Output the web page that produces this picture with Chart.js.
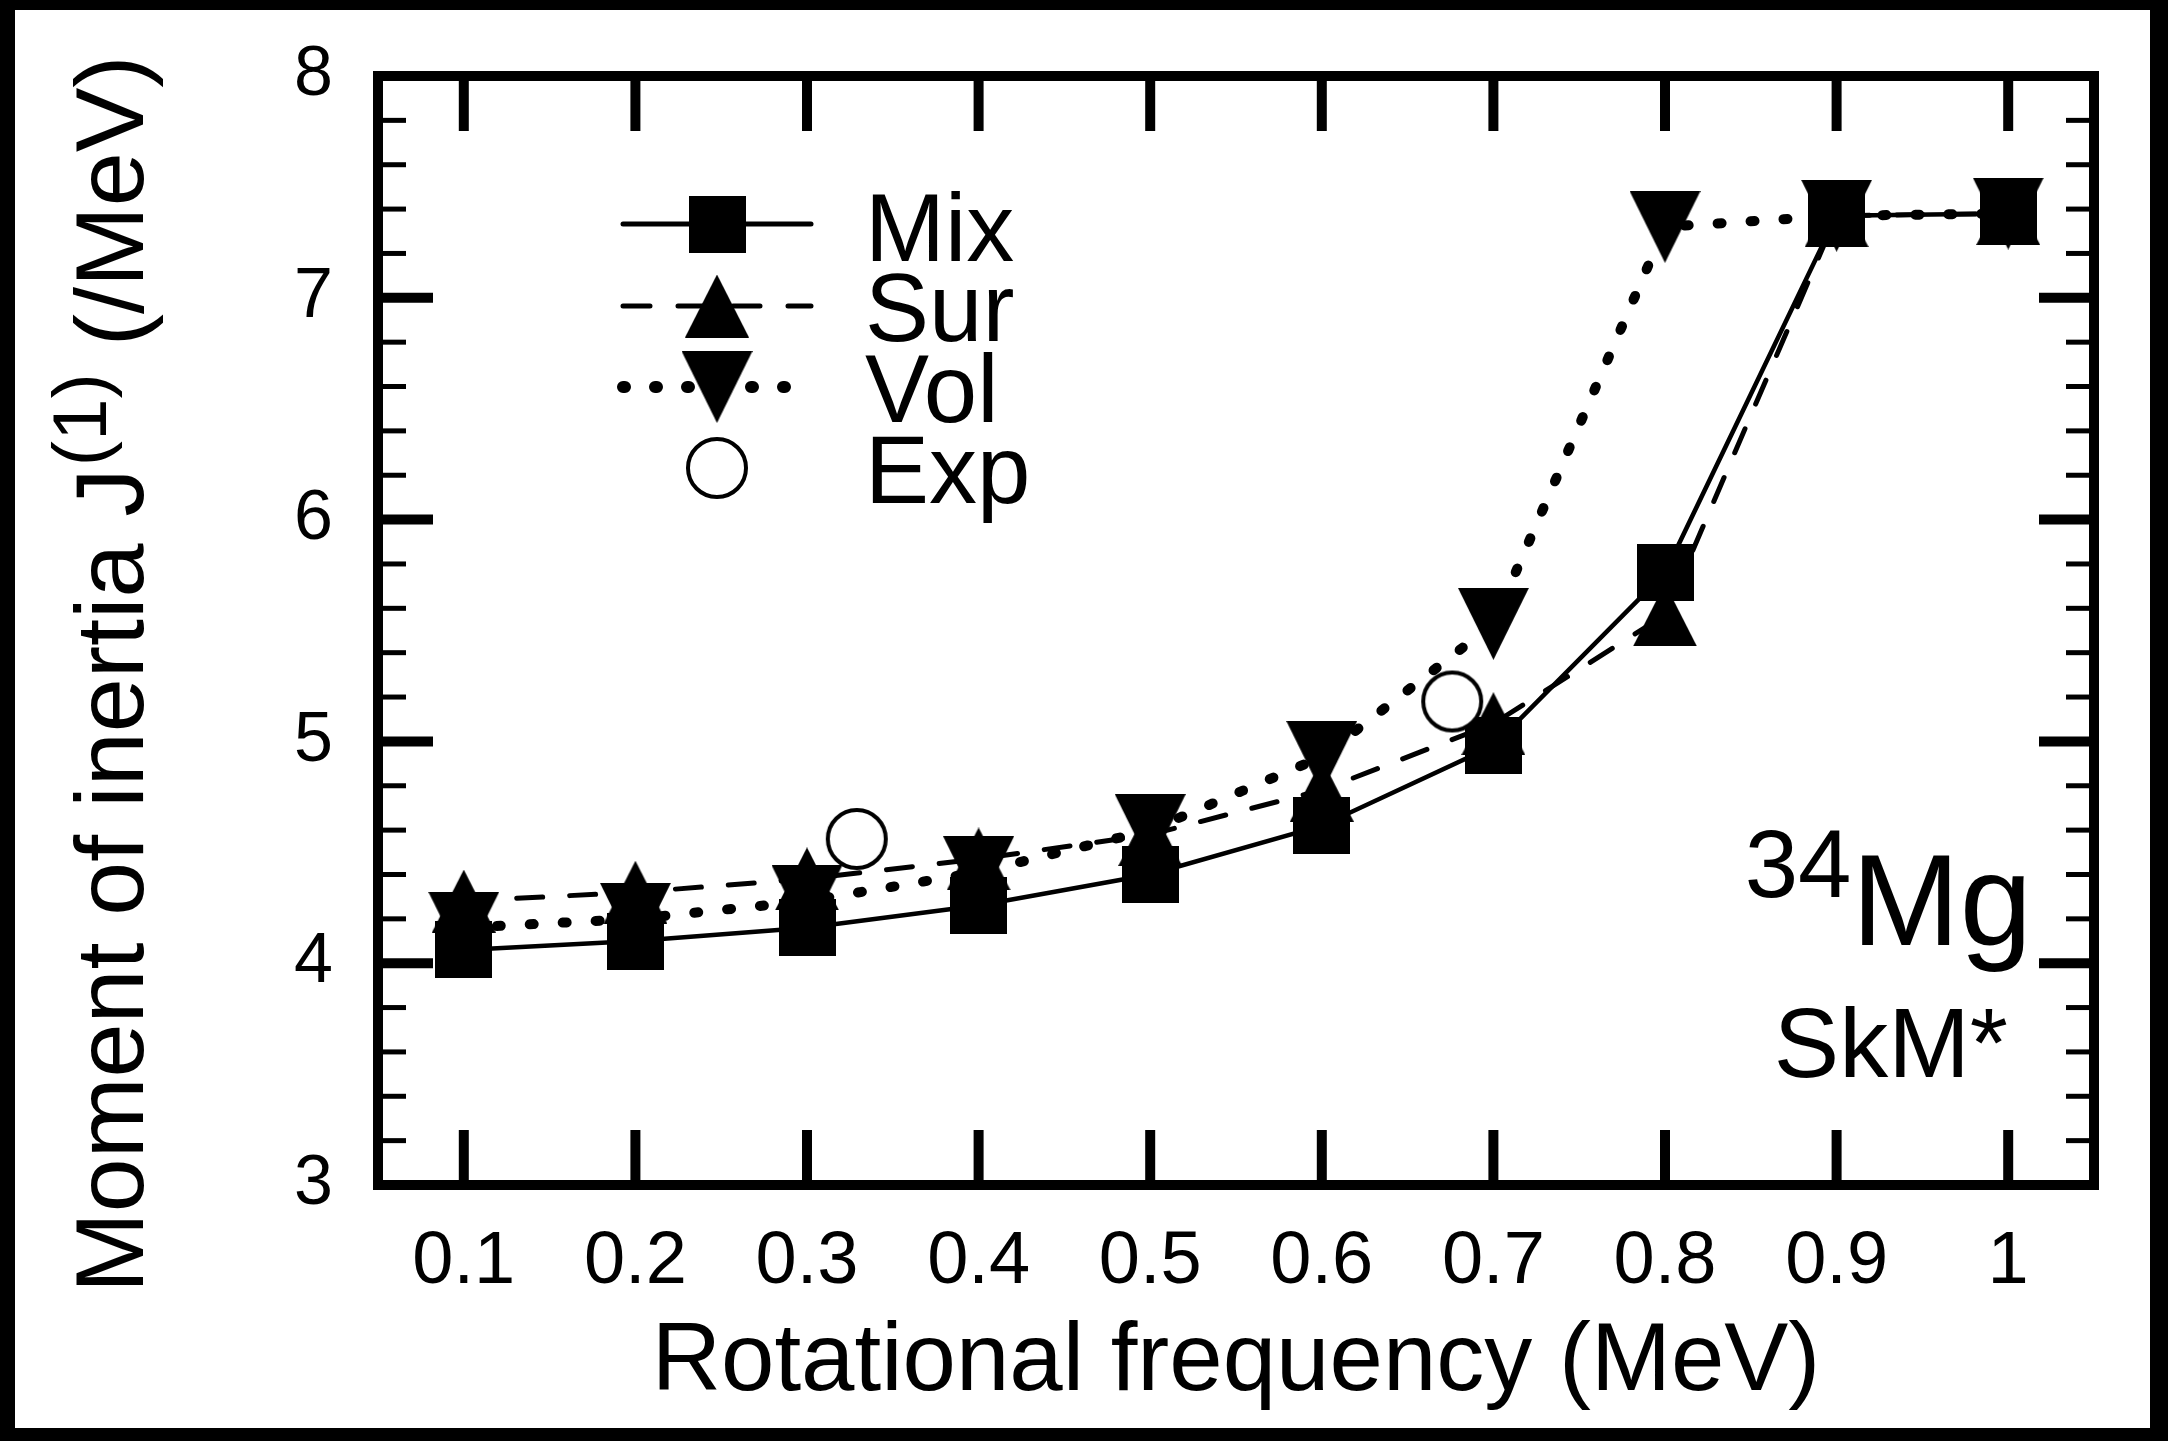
<!DOCTYPE html>
<html>
<head>
<meta charset="utf-8">
<title>34Mg SkM* - Moment of inertia</title>
<script src="https://cdn.jsdelivr.net/npm/chart.js@4.4.1/dist/chart.umd.min.js"></script>
<style>
    html, body { margin: 0; padding: 0; background: #000; }
    #marco { position: absolute; left: 15px; top: 10px; width: 2135px; height: 1418px; background: #fff; }
</style>
</head>
<body>
<div id="marco"><canvas id="grafico"></canvas></div>
<script>
// Datos
const frecuencias = [0.1, 0.2, 0.3, 0.4, 0.5, 0.6, 0.7, 0.8, 0.9, 1.0];
const mix = [4.06, 4.10, 4.16, 4.26, 4.40, 4.62, 4.98, 5.76, 7.37, 7.38];
const sur = [4.28, 4.32, 4.38, 4.47, 4.58, 4.78, 5.08, 5.57, 7.37, 7.38];
const vol = [4.16, 4.20, 4.28, 4.41, 4.60, 4.93, 5.53, 7.32, 7.37, 7.38];
const expFrecuencias = [0.329, 0.676];
const expValores = [4.56, 5.18];
const ticksX = [0.1, 0.2, 0.3, 0.4, 0.5, 0.6, 0.7, 0.8, 0.9, 1];
const ticksY = [3, 4, 5, 6, 7, 8];
const etiquetas = ['Mix', 'Sur', 'Vol', 'Exp'];

const FUENTE = '"Liberation Sans", Arial, Helvetica, sans-serif';

function crearMarcador(ancho, alto, dibujar) {
    const c = document.createElement('canvas');
    c.width = ancho;
    c.height = alto;
    const g = c.getContext('2d');
    g.fillStyle = '#000';
    dibujar(g);
    return c;
}

const cuadrado = crearMarcador(57, 57, g => g.fillRect(0, 0, 57, 57));
const trianguloArriba = crearMarcador(64, 63, g => {
    g.beginPath();
    g.moveTo(32, 0); g.lineTo(64, 63); g.lineTo(0, 63);
    g.closePath();
    g.fill();
});
const trianguloAbajo = crearMarcador(71, 72, g => {
    g.beginPath();
    g.moveTo(0, 0); g.lineTo(71, 0); g.lineTo(35.5, 72);
    g.closePath();
    g.fill();
});
const circulo = crearMarcador(66, 66, g => {
    g.beginPath();
    g.arc(33, 33, 29, 0, 2 * Math.PI);
    g.fillStyle = '#fff';
    g.fill();
    g.lineWidth = 4;
    g.strokeStyle = '#000';
    g.stroke();
});

function puntos(xs, ys) {
    return xs.map((x, i) => ({ x: x, y: ys[i] }));
}

// estilos de la leyenda (linea + marcador)
const estilos = {
    Mix: { dash: [], ancho: 5, cap: 'round', marcador: cuadrado },
    Sur: { dash: [27, 28], ancho: 5, cap: 'round', marcador: trianguloArriba },
    Vol: { dash: [2, 30], ancho: 12, cap: 'round', marcador: trianguloAbajo },
    Exp: { dash: null, ancho: 0, cap: 'butt', marcador: circulo }
};

const decoracion = {
    id: 'decoracion',
    afterDatasetsDraw(chart) {
        const { ctx, chartArea: a, scales: { x, y } } = chart;
        ctx.save();
        ctx.strokeStyle = '#000';
        ctx.lineCap = 'butt';
        const linea = (x1, y1, x2, y2) => {
            ctx.beginPath();
            ctx.moveTo(x1, y1);
            ctx.lineTo(x2, y2);
            ctx.stroke();
        };
        // marcas principales
        ctx.lineWidth = 10;
        ticksX.forEach(v => {
            const px = x.getPixelForValue(v);
            linea(px, a.bottom, px, a.bottom - 55);
            linea(px, a.top, px, a.top + 55);
        });
        ticksY.forEach(v => {
            const py = y.getPixelForValue(v);
            linea(a.left, py, a.left + 55, py);
            linea(a.right, py, a.right - 55, py);
        });
        // marcas menores cada 0.2
        ctx.lineWidth = 5;
        for (let i = 0; i < ticksY.length - 1; i++) {
            for (let k = 1; k < 5; k++) {
                const py = y.getPixelForValue(ticksY[i] + k * 0.2);
                linea(a.left, py, a.left + 28, py);
                linea(a.right, py, a.right - 28, py);
            }
        }
        // marco
        ctx.lineWidth = 10;
        ctx.lineJoin = 'miter';
        ctx.strokeRect(a.left, a.top, a.right - a.left, a.bottom - a.top);
        ctx.restore();
    },
    afterDraw(chart) {
        const ctx = chart.ctx;
        ctx.save();
        ctx.fillStyle = '#000';
        ctx.strokeStyle = '#000';
        ctx.textBaseline = 'alphabetic';

        // leyenda
        const filasY = [214, 296, 377, 458];
        const basesY = [251, 331, 412, 493];
        etiquetas.forEach((nombre, i) => {
            const e = estilos[nombre];
            if (e.dash) {
                ctx.lineWidth = e.ancho;
                ctx.lineCap = e.cap;
                ctx.setLineDash(e.dash);
                ctx.beginPath();
                ctx.moveTo(608, filasY[i]);
                ctx.lineTo(796, filasY[i]);
                ctx.stroke();
                ctx.setLineDash([]);
            }
            const m = e.marcador;
            ctx.drawImage(m, 702 - m.width / 2, filasY[i] - m.height / 2);
            ctx.font = '96px ' + FUENTE;
            ctx.textAlign = 'left';
            ctx.fillText(nombre, 850, basesY[i]);
        });

        // 34Mg
        ctx.textAlign = 'right';
        ctx.font = '130px ' + FUENTE;
        const xMg = 2017;
        ctx.fillText('Mg', xMg, 935);
        const anchoMg = ctx.measureText('Mg').width;
        ctx.font = '96px ' + FUENTE;
        ctx.fillText('34', xMg - anchoMg, 887);

        // SkM*
        ctx.font = '98px ' + FUENTE;
        ctx.fillText('SkM*', 1993, 1067);

        // titulo del eje y con superindice
        ctx.translate(128, 1283);
        ctx.rotate(-Math.PI / 2);
        ctx.textAlign = 'left';
        ctx.font = '97px ' + FUENTE;
        const t1 = 'Moment of inertia J';
        ctx.fillText(t1, 0, 0);
        let pos = ctx.measureText(t1).width + 2;
        ctx.font = '76px ' + FUENTE;
        ctx.fillText('(1)', pos, -37);
        pos += ctx.measureText('(1)').width;
        ctx.font = '97px ' + FUENTE;
        ctx.fillText(' (/MeV)', pos, 0);
        ctx.restore();
    }
};

Chart.defaults.font.family = FUENTE;
Chart.defaults.color = '#000';

const ctx = document.getElementById('grafico').getContext('2d');
new Chart(ctx, {
    type: 'line',
    data: {
        datasets: [
            {
                label: 'Exp',
                data: puntos(expFrecuencias, expValores),
                showLine: false,
                pointStyle: circulo,
                pointRadius: 31
            },
            {
                label: 'Mix',
                data: puntos(frecuencias, mix),
                borderColor: '#000',
                borderWidth: 4.5,
                pointStyle: cuadrado,
                pointRadius: 28
            },
            {
                label: 'Sur',
                data: puntos(frecuencias, sur),
                borderColor: '#000',
                borderWidth: 5,
                borderDash: [26, 27],
                borderCapStyle: 'round',
                pointStyle: trianguloArriba,
                pointRadius: 32
            },
            {
                label: 'Vol',
                data: puntos(frecuencias, vol),
                borderColor: '#000',
                borderWidth: 10,
                borderDash: [4, 29],
                borderCapStyle: 'round',
                pointStyle: trianguloAbajo,
                pointRadius: 36
            }
        ]
    },
    options: {
        responsive: true,
        maintainAspectRatio: false,
        animation: false,
        events: [],
        layout: { padding: { top: 66, right: 56, left: 0, bottom: 0 } },
        elements: { line: { tension: 0, fill: false } },
        plugins: {
            legend: { display: false },
            tooltip: { enabled: false }
        },
        scales: {
            x: {
                type: 'linear',
                min: 0.05,
                max: 1.05,
                grid: { display: false, drawTicks: false },
                border: { display: false },
                afterBuildTicks: s => { s.ticks = ticksX.map(v => ({ value: v })); },
                afterFit: s => {
                    s.height = 243;
                    s.paddingLeft = 0;
                    s.paddingRight = 0;
                },
                ticks: {
                    font: { size: 74 },
                    padding: 33,
                    maxRotation: 0,
                    autoSkip: false,
                    callback: v => String(v)
                },
                title: {
                    display: true,
                    text: 'Rotational frequency (MeV)',
                    font: { size: 96 },
                    padding: { top: 0, bottom: 7 }
                }
            },
            y: {
                type: 'linear',
                min: 3,
                max: 8,
                grid: { display: false, drawTicks: false },
                border: { display: false },
                afterBuildTicks: s => { s.ticks = ticksY.map(v => ({ value: v })); },
                afterFit: s => {
                    s.width = 363;
                    s.paddingTop = 0;
                    s.paddingBottom = 0;
                },
                ticks: {
                    font: { size: 70 },
                    padding: 45,
                    callback: v => String(v)
                }
            }
        }
    },
    plugins: [decoracion]
});
</script>
</body>
</html>
